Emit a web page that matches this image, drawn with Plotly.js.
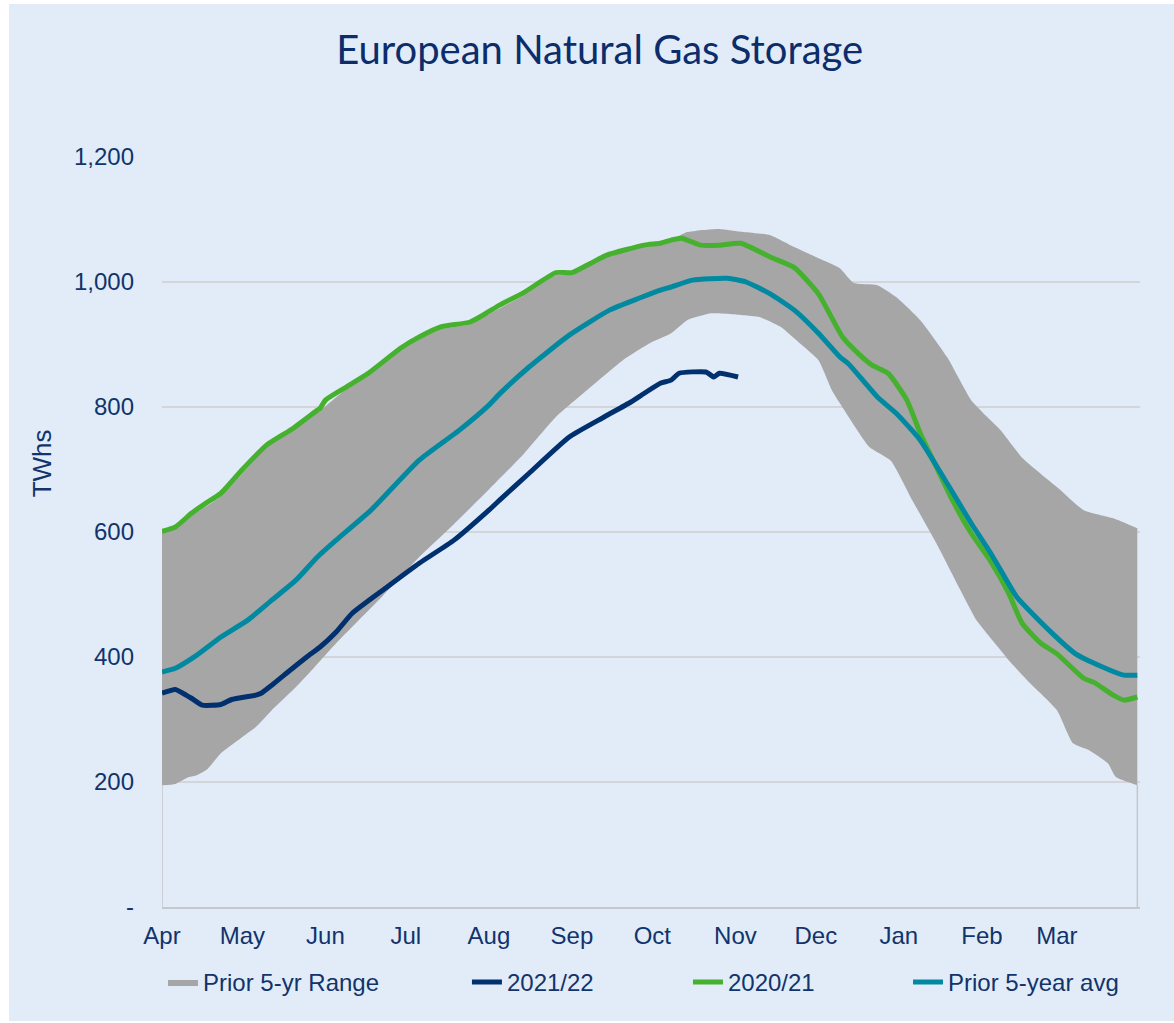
<!DOCTYPE html>
<html>
<head>
<meta charset="utf-8">
<script src="https://cdn.plot.ly/plotly-3.0.1.min.js"></script>
<style>
  html, body { margin: 0; padding: 0; background: #ffffff; }
  #chart { position: absolute; left: 9px; top: 4px; width: 1165px; height: 1017px; }
</style>
</head>
<body>
<div id="chart"></div>
<script>
// ---- Data (day index from 1 April) ----
const monthLabels = ["Apr","May","Jun","Jul","Aug","Sep","Oct","Nov","Dec","Jan","Feb","Mar"];
const monthStartDays = [0,30,61,91,122,153,183,214,244,275,306,334];

const yTickVals = [0,200,400,600,800,1000,1200];
const yTickText = ["-","200","400","600","800","1,000","1,200"];

const rangeUpperDays = [0,11,22,39,49,59,68,77,89,96,104,115,121,135,147,153,166,180,190,196,208,217,227,236,245,253,258,267,274,283,293,302,308,313,321,334,344,355,364];
const rangeUpper     = [600,627,657,736,764,794,826,851,890,908,924,933,946,979,1011,1013,1040,1057,1068,1080,1085,1080,1075,1056,1038,1022,999,995,976,939,880,811,784,763,719,672,635,622,606];

const rangeLowerDays = [0,5,10,13,17,22,30,35,41,50,57,65,82,96,109,122,135,147,160,172,182,190,196,205,217,223,231,238,245,250,253,264,272,280,289,298,304,313,316,324,334,340,346,353,356,364];
const rangeLower     = [195,197,208,211,221,246,272,288,315,352,384,422,496,560,613,668,725,784,832,875,902,918,939,950,947,944,928,902,875,827,806,736,714,651,582,507,459,411,395,358,315,262,251,230,208,195];

const y2122Days = [0,5,9,11,15,22,26,35,37,41,47,54,59,65,71,84,96,109,122,126,137,152,165,175,180,186,190,193,203,206,208,215];
const y2122     = [342,348,339,334,323,324,332,339,342,355,376,400,416,440,470,512,550,587,635,651,694,752,784,808,822,838,843,854,856,848,854,848];

const y2021Days = [0,5,11,16,22,30,39,49,58,59,61,68,77,89,96,104,115,121,126,135,147,153,160,166,180,186,190,194,201,208,216,227,236,245,254,260,265,271,278,283,289,295,302,309,316,321,328,334,344,348,355,359,364];
const y2021     = [601,608,630,645,662,700,739,766,795,798,811,830,854,894,912,928,936,950,963,983,1015,1015,1030,1043,1059,1062,1067,1070,1059,1059,1062,1040,1023,981,912,885,867,854,811,758,704,651,598,555,502,454,422,405,366,359,339,331,336];

const avgDays = [0,5,13,22,32,41,50,58,65,78,96,111,122,126,137,152,167,178,186,190,198,211,218,227,236,245,253,256,267,274,283,293,302,309,313,319,331,341,351,359,364];
const avg5yr  = [376,382,403,432,459,491,523,560,587,635,715,763,803,821,864,915,955,974,987,992,1003,1006,1000,981,955,918,880,870,816,790,747,678,614,568,539,496,443,405,384,371,371];

// ---- Styling ----
const navy = "#00306E", green = "#46B12F", teal = "#0089A0", gray = "#A6A6A6";
const txt = "#12336B";
const bg = "#E1ECF8";
const font = "Liberation Sans, Arial, sans-serif";

const lastL = rangeLower.length - 1;
const traces = [
  {x:[rangeLowerDays[0], rangeLowerDays[0]], y:[0, rangeLower[0]], mode:"lines",
   line:{color:"#C4C7CB", width:1.5}, showlegend:false, hoverinfo:"skip"},
  {x:[rangeLowerDays[lastL], rangeLowerDays[lastL]], y:[0, rangeLower[lastL]], mode:"lines",
   line:{color:"#C4C7CB", width:1.5}, showlegend:false, hoverinfo:"skip"},
  {x: rangeLowerDays, y: rangeLower, mode:"lines", line:{width:0, shape:"spline", smoothing:0.5},
   showlegend:false, hoverinfo:"skip"},
  {x: rangeUpperDays, y: rangeUpper, mode:"lines", fill:"tonexty", fillcolor:gray,
   line:{width:0, color:gray, shape:"spline", smoothing:0.5}, name:"Prior 5-yr Range", legend:"legend"},
  {x: y2122Days, y: y2122, mode:"lines", line:{color:navy, width:5, shape:"spline", smoothing:0.5},
   name:"2021/22", legend:"legend2"},
  {x: y2021Days, y: y2021, mode:"lines", line:{color:green, width:5, shape:"spline", smoothing:0.5},
   name:"2020/21", legend:"legend3"},
  {x: avgDays, y: avg5yr, mode:"lines", line:{color:teal, width:5, shape:"spline", smoothing:0.5},
   name:"Prior 5-year avg", legend:"legend4"}
];

function leg(x) {
  return {orientation:"h", x:x, xanchor:"left", y:-0.1004, yanchor:"middle",
          bgcolor:"rgba(0,0,0,0)", font:{family:font, size:24, color:txt}};
}

const layout = {
  width:1165, height:1017,
  paper_bgcolor:bg, plot_bgcolor:bg,
  margin:{l:153, r:34, t:153, b:114},
  title:{text:"European Natural Gas Storage", font:{family:"Lato, Noto Sans, sans-serif", size:40, color:"#0C2D6B"},
         x:0.507, xref:"container", xanchor:"center", y:0.9548, yref:"container", yanchor:"middle"},
  xaxis:{range:[0,365], tickvals:monthStartDays, ticktext:monthLabels, showgrid:false, zeroline:false,
         showline:true, linecolor:"#C4C7CB", linewidth:1.5, ticks:"", ticklabelstandoff:7,
         tickfont:{family:font, size:24, color:txt}, fixedrange:true},
  yaxis:{range:[0,1200], tickvals:yTickVals, ticktext:yTickText, showgrid:true, gridcolor:"#D3D5D8", gridwidth:1.5,
         zeroline:false, showline:false, ticks:"", ticklabelstandoff:27,
         tickfont:{family:font, size:24, color:txt}, fixedrange:true},
  annotations:[{text:"TWhs", textangle:-90, xref:"paper", yref:"paper", x:-0.1227, y:0.5916,
                xanchor:"center", yanchor:"middle", showarrow:false,
                font:{family:font, size:26, color:txt}}],
  legend: leg(0.0010),
  legend2: leg(0.3118),
  legend3: leg(0.5378),
  legend4: leg(0.7628),
  showlegend:true
};

Plotly.newPlot("chart", traces, layout, {displayModeBar:false, staticPlot:true});
</script>
</body>
</html>
